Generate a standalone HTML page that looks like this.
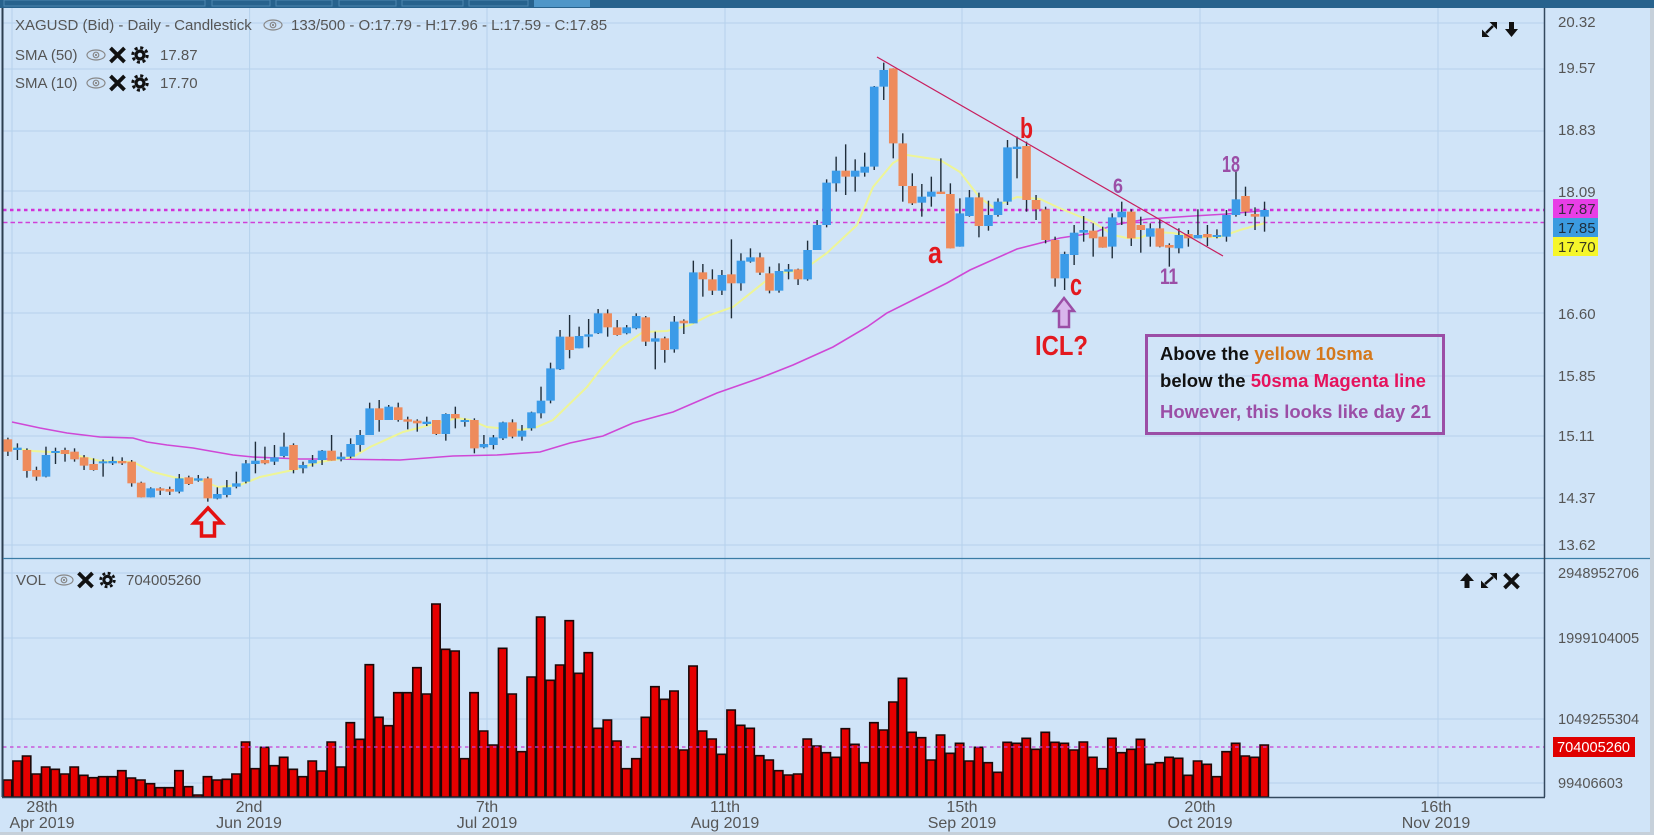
<!DOCTYPE html>
<html><head><meta charset="utf-8">
<style>
html,body{margin:0;padding:0;background:#d0e4f8;width:1654px;height:835px;overflow:hidden;}
svg{display:block;font-family:"Liberation Sans",Arial,sans-serif;}
.g line.w{stroke:#1f2d3a;stroke-width:1.4;vector-effect:non-scaling-stroke;}
.g line.u{stroke:#3b9be8;stroke-width:8.6;vector-effect:non-scaling-stroke;}
.g line.d{stroke:#ee8b5c;stroke-width:8.6;vector-effect:non-scaling-stroke;}
.v rect{fill:#e60000;stroke:#1a0808;stroke-width:1.6;vector-effect:non-scaling-stroke;}
.ax{font-size:15px;fill:#555;}
.vx{font-size:14.6px;fill:#555;}
.dt{font-size:16px;fill:#555;text-anchor:middle;}
.hd{font-size:15px;fill:#555;}
</style></head>
<body>
<svg width="1654" height="835" viewBox="0 0 1654 835" xmlns="http://www.w3.org/2000/svg">
<rect x="0" y="0" width="1654" height="835" fill="#d0e4f8"/>
<rect x="1650" y="0" width="4" height="835" fill="#c6d0da"/>
<rect x="0" y="832" width="1654" height="3" fill="#c6d0da"/>
<!-- top bar -->
<rect x="0" y="0" width="1654" height="8" fill="#27628d"/>
<g fill="none" stroke="#4d86b0" stroke-width="1">
<rect x="4" y="0" width="201" height="6"/><rect x="212" y="0" width="58" height="6"/><rect x="276" y="0" width="56" height="6"/>
<rect x="339" y="0" width="57" height="6"/><rect x="402" y="0" width="61" height="6"/><rect x="469" y="0" width="59" height="6"/>
</g>
<rect x="534" y="0" width="56" height="7" fill="#4f96c8"/>

<!-- grid -->
<g stroke="#b6d1ec" stroke-width="1">
<line x1="3" y1="23" x2="1544" y2="23"/><line x1="3" y1="69" x2="1544" y2="69"/><line x1="3" y1="131" x2="1544" y2="131"/>
<line x1="3" y1="191" x2="1544" y2="191"/><line x1="3" y1="253" x2="1544" y2="253"/><line x1="3" y1="313" x2="1544" y2="313"/>
<line x1="3" y1="376" x2="1544" y2="376"/><line x1="3" y1="436" x2="1544" y2="436"/><line x1="3" y1="498" x2="1544" y2="498"/>
<line x1="3" y1="545" x2="1544" y2="545"/>
<line x1="3" y1="573" x2="1544" y2="573"/><line x1="3" y1="638" x2="1544" y2="638"/><line x1="3" y1="719" x2="1544" y2="719"/><line x1="3" y1="783" x2="1544" y2="783"/>
<line x1="12" y1="8" x2="12" y2="797"/><line x1="249.6" y1="8" x2="249.6" y2="797"/><line x1="487" y1="8" x2="487" y2="797"/>
<line x1="725" y1="8" x2="725" y2="797"/><line x1="962" y1="8" x2="962" y2="797"/><line x1="1200" y1="8" x2="1200" y2="797"/><line x1="1438" y1="8" x2="1438" y2="797"/>
</g>

<!-- header text -->
<text class="hd" x="15" y="30">XAGUSD (Bid) - Daily - Candlestick</text>
<g fill="none" stroke="#888" stroke-width="1.2"><ellipse cx="273" cy="25" rx="9" ry="5"/><circle cx="273" cy="25" r="2.8"/></g><circle cx="273" cy="25" r="1.1" fill="#888"/>
<text class="hd" x="291" y="30">133/500 - O:17.79 - H:17.96 - L:17.59 - C:17.85</text>

<text class="hd" x="15" y="60">SMA (50)</text>
<g fill="none" stroke="#888" stroke-width="1.2"><ellipse cx="96" cy="55" rx="9" ry="5"/><circle cx="96" cy="55" r="2.8"/></g><circle cx="96" cy="55" r="1.1" fill="#888"/>
<path d="M110.5,48 L124.5,62 M124.5,48 L110.5,62" stroke="#111" stroke-width="3.8"/>
<circle cx="140" cy="55" r="5.5" fill="#111"/><circle cx="140" cy="55" r="7.2" fill="none" stroke="#111" stroke-width="3" stroke-dasharray="3 2.65"/><circle cx="140" cy="55" r="2.3" fill="#d0e4f8"/>
<text class="hd" x="160" y="60">17.87</text>

<text class="hd" x="15" y="88">SMA (10)</text>
<g fill="none" stroke="#888" stroke-width="1.2"><ellipse cx="96" cy="83" rx="9" ry="5"/><circle cx="96" cy="83" r="2.8"/></g><circle cx="96" cy="83" r="1.1" fill="#888"/>
<path d="M110.5,76 L124.5,90 M124.5,76 L110.5,90" stroke="#111" stroke-width="3.8"/>
<circle cx="140" cy="83" r="5.5" fill="#111"/><circle cx="140" cy="83" r="7.2" fill="none" stroke="#111" stroke-width="3" stroke-dasharray="3 2.65"/><circle cx="140" cy="83" r="2.3" fill="#d0e4f8"/>
<text class="hd" x="160" y="88">17.70</text>

<!-- top right main icons -->
<polygon points="1497,22 1497,29.5 1489.5,22" fill="#111"/><polygon points="1482,37 1482,29.5 1489.5,37" fill="#111"/>
<line x1="1486" y1="33" x2="1493" y2="26" stroke="#111" stroke-width="2.5"/>
<polygon points="1509,22 1514,22 1514,29 1518,29 1511.5,37 1505,29 1509,29" fill="#111"/>

<!-- dotted level lines -->
<line x1="3" y1="210" x2="1544" y2="210" stroke="#d232d8" stroke-width="2.6" stroke-dasharray="3.5 3.5"/>
<line x1="3" y1="222.5" x2="1544" y2="222.5" stroke="#d040d8" stroke-width="1.6" stroke-dasharray="4.5 3"/>

<!-- SMA50 -->
<polyline fill="none" stroke="#cf48d6" stroke-width="1.6" points="12,422 40,428 67,433 100,437 133,438 147,442 167,445 193,448 210,451 233,455 253,457 277,458 300,459 330,459 400,460 453,456 497,455 540,452 570,443 603,436 633,423 673,412 717,393 760,378 793,365 833,347 867,327 887,313 913,300 947,283 970,270 1017,249 1060,238 1093,233 1113,225 1147,219 1193,216 1227,214 1265,210.5"/>
<!-- SMA10 -->
<polyline fill="none" stroke="#eef596" stroke-width="2" points="12,448 33,451 67,453 100,461 133,462 153,472 177,478 200,480 218,487 240,485 260,477 293,470 320,462 353,457 370,447 403,432 430,425 457,418 470,420 487,427 520,430 537,427 553,420 587,387 600,370 620,348 643,332 667,331 690,325 710,315 733,307 767,280 780,273 803,270 827,253 857,225 873,187 893,163 907,155 940,160 960,172 980,198 993,207 1017,197 1040,199 1057,207 1093,222 1113,235 1127,238 1140,238 1153,232 1173,233 1193,237 1220,237 1240,230 1265,223"/>

<!-- candles group A -->
<g class="g" transform="translate(-1.62,400) scale(9.52,0.333333)">
<line class="w" x1="1" y1="113" x2="1" y2="168"/><line class="d" x1="1" y1="118" x2="1" y2="155"/>
<line class="w" x1="2" y1="130" x2="2" y2="180"/><line class="u" x1="2" y1="143" x2="2" y2="150"/>
<line class="w" x1="3" y1="145" x2="3" y2="233"/><line class="d" x1="3" y1="150" x2="3" y2="213"/>
<line class="w" x1="4" y1="200" x2="4" y2="242"/><line class="d" x1="4" y1="210" x2="4" y2="230"/>
<line class="w" x1="5" y1="140" x2="5" y2="232"/><line class="u" x1="5" y1="165" x2="5" y2="230"/>
<line class="w" x1="6" y1="143" x2="6" y2="192"/><line class="u" x1="6" y1="153" x2="6" y2="159"/>
<line class="w" x1="7" y1="143" x2="7" y2="185"/><line class="d" x1="7" y1="150" x2="7" y2="162"/>
<line class="w" x1="8" y1="145" x2="8" y2="185"/><line class="d" x1="8" y1="155" x2="8" y2="178"/>
<line class="w" x1="9" y1="165" x2="9" y2="210"/><line class="d" x1="9" y1="172" x2="9" y2="197"/>
<line class="w" x1="10" y1="175" x2="10" y2="212"/><line class="d" x1="10" y1="192" x2="10" y2="210"/>
<line class="w" x1="11" y1="178" x2="11" y2="230"/><line class="u" x1="11" y1="184" x2="11" y2="190"/>
<line class="w" x1="12" y1="170" x2="12" y2="195"/><line class="u" x1="12" y1="183" x2="12" y2="190"/>
<line class="w" x1="13" y1="172" x2="13" y2="195"/><line class="d" x1="13" y1="183" x2="13" y2="190"/>
<line class="w" x1="14" y1="180" x2="14" y2="260"/><line class="d" x1="14" y1="185" x2="14" y2="250"/>
<line class="w" x1="15" y1="245" x2="15" y2="292"/><line class="d" x1="15" y1="248" x2="15" y2="292"/>
<line class="w" x1="16" y1="262" x2="16" y2="292"/><line class="u" x1="16" y1="265" x2="16" y2="292"/>
<line class="w" x1="17" y1="262" x2="17" y2="285"/><line class="d" x1="17" y1="265" x2="17" y2="272"/>
<line class="w" x1="18" y1="260" x2="18" y2="285"/><line class="d" x1="18" y1="267" x2="18" y2="275"/>
<line class="w" x1="19" y1="222" x2="19" y2="280"/><line class="u" x1="19" y1="235" x2="19" y2="275"/>
<line class="w" x1="20" y1="227" x2="20" y2="255"/><line class="d" x1="20" y1="232" x2="20" y2="252"/>
<line class="w" x1="21" y1="225" x2="21" y2="245"/><line class="u" x1="21" y1="235" x2="21" y2="242"/>
<line class="w" x1="22" y1="230" x2="22" y2="305"/><line class="d" x1="22" y1="235" x2="22" y2="295"/>
<line class="w" x1="23" y1="262" x2="23" y2="298"/><line class="u" x1="23" y1="282" x2="23" y2="296"/>
<line class="w" x1="24" y1="240" x2="24" y2="292"/><line class="u" x1="24" y1="262" x2="24" y2="285"/>
<line class="w" x1="25" y1="215" x2="25" y2="265"/><line class="u" x1="25" y1="250" x2="25" y2="260"/>
<line class="w" x1="26" y1="180" x2="26" y2="250"/><line class="u" x1="26" y1="190" x2="26" y2="245"/>
<line class="w" x1="27" y1="125" x2="27" y2="220"/><line class="u" x1="27" y1="182" x2="27" y2="192"/>
<line class="w" x1="28" y1="140" x2="28" y2="193"/><line class="d" x1="28" y1="180" x2="28" y2="190"/>
<line class="w" x1="29" y1="135" x2="29" y2="195"/><line class="u" x1="29" y1="172" x2="29" y2="185"/>
<line class="w" x1="30" y1="98" x2="30" y2="172"/><line class="u" x1="30" y1="140" x2="30" y2="168"/>
<line class="w" x1="31" y1="130" x2="31" y2="220"/><line class="d" x1="31" y1="135" x2="31" y2="210"/>
<line class="w" x1="32" y1="185" x2="32" y2="220"/><line class="u" x1="32" y1="195" x2="32" y2="205"/>
<line class="w" x1="33" y1="165" x2="33" y2="200"/><line class="u" x1="33" y1="180" x2="33" y2="190"/>
<line class="w" x1="34" y1="150" x2="34" y2="195"/><line class="u" x1="34" y1="152" x2="34" y2="180"/>
</g>
<!-- candles group B -->
<g class="g" transform="translate(-1.62,240) scale(9.52,0.333333)">
<line class="w" x1="35" y1="585" x2="35" y2="662"/><line class="d" x1="35" y1="632" x2="35" y2="662"/>
<line class="w" x1="36" y1="637" x2="36" y2="664"/><line class="u" x1="36" y1="650" x2="36" y2="658"/>
<line class="w" x1="37" y1="595" x2="37" y2="655"/><line class="u" x1="37" y1="612" x2="37" y2="650"/>
<line class="w" x1="38" y1="570" x2="38" y2="635"/><line class="u" x1="38" y1="585" x2="38" y2="615"/>
<line class="w" x1="39" y1="488" x2="39" y2="585"/><line class="u" x1="39" y1="505" x2="39" y2="585"/>
<line class="w" x1="40" y1="480" x2="40" y2="575"/><line class="d" x1="40" y1="505" x2="40" y2="540"/>
<line class="w" x1="41" y1="495" x2="41" y2="540"/><line class="u" x1="41" y1="500" x2="41" y2="540"/>
<line class="w" x1="42" y1="488" x2="42" y2="545"/><line class="d" x1="42" y1="502" x2="42" y2="540"/>
<line class="w" x1="43" y1="530" x2="43" y2="568"/><line class="d" x1="43" y1="538" x2="43" y2="545"/>
<line class="w" x1="44" y1="538" x2="44" y2="575"/><line class="d" x1="44" y1="542" x2="44" y2="550"/>
<line class="w" x1="45" y1="530" x2="45" y2="558"/><line class="u" x1="45" y1="545" x2="45" y2="552"/>
<line class="w" x1="46" y1="540" x2="46" y2="585"/><line class="d" x1="46" y1="540" x2="46" y2="582"/>
<line class="w" x1="47" y1="520" x2="47" y2="602"/><line class="u" x1="47" y1="522" x2="47" y2="582"/>
<line class="w" x1="48" y1="500" x2="48" y2="565"/><line class="d" x1="48" y1="522" x2="48" y2="535"/>
<line class="w" x1="49" y1="535" x2="49" y2="560"/><line class="u" x1="49" y1="540" x2="49" y2="546"/>
<line class="w" x1="50" y1="535" x2="50" y2="640"/><line class="d" x1="50" y1="540" x2="50" y2="625"/>
<line class="w" x1="51" y1="585" x2="51" y2="625"/><line class="u" x1="51" y1="612" x2="51" y2="622"/>
<line class="w" x1="52" y1="585" x2="52" y2="628"/><line class="u" x1="52" y1="592" x2="52" y2="615"/>
<line class="w" x1="53" y1="545" x2="53" y2="600"/><line class="u" x1="53" y1="547" x2="53" y2="595"/>
<line class="w" x1="54" y1="538" x2="54" y2="595"/><line class="d" x1="54" y1="547" x2="54" y2="590"/>
<line class="w" x1="55" y1="555" x2="55" y2="602"/><line class="u" x1="55" y1="572" x2="55" y2="590"/>
<line class="w" x1="56" y1="515" x2="56" y2="572"/><line class="u" x1="56" y1="517" x2="56" y2="565"/>
<line class="w" x1="57" y1="440" x2="57" y2="535"/><line class="u" x1="57" y1="482" x2="57" y2="520"/>
<line class="w" x1="58" y1="368" x2="58" y2="490"/><line class="u" x1="58" y1="385" x2="58" y2="482"/>
<line class="w" x1="59" y1="270" x2="59" y2="390"/><line class="u" x1="59" y1="290" x2="59" y2="388"/>
<line class="w" x1="60" y1="225" x2="60" y2="355"/><line class="d" x1="60" y1="290" x2="60" y2="330"/>
<line class="w" x1="61" y1="260" x2="61" y2="325"/><line class="u" x1="61" y1="288" x2="61" y2="325"/>
<line class="w" x1="62" y1="237" x2="62" y2="322"/><line class="u" x1="62" y1="283" x2="62" y2="290"/>
<line class="w" x1="63" y1="207" x2="63" y2="282"/><line class="u" x1="63" y1="220" x2="63" y2="280"/>
<line class="w" x1="64" y1="208" x2="64" y2="290"/><line class="d" x1="64" y1="220" x2="64" y2="262"/>
<line class="w" x1="65" y1="240" x2="65" y2="287"/><line class="d" x1="65" y1="262" x2="65" y2="285"/>
<line class="w" x1="66" y1="255" x2="66" y2="283"/><line class="u" x1="66" y1="262" x2="66" y2="280"/>
<line class="w" x1="67" y1="220" x2="67" y2="268"/><line class="u" x1="67" y1="228" x2="67" y2="265"/>
<line class="w" x1="68" y1="228" x2="68" y2="318"/><line class="d" x1="68" y1="232" x2="68" y2="305"/>
</g>
<!-- candles group C -->
<g class="g" transform="translate(-1.62,280) scale(9.52,0.333333)">
<line class="w" x1="69" y1="155" x2="69" y2="268"/><line class="u" x1="69" y1="175" x2="69" y2="185"/>
<line class="w" x1="70" y1="170" x2="70" y2="248"/><line class="d" x1="70" y1="175" x2="70" y2="210"/>
<line class="w" x1="71" y1="108" x2="71" y2="218"/><line class="u" x1="71" y1="125" x2="71" y2="208"/>
<line class="w" x1="72" y1="118" x2="72" y2="162"/><line class="d" x1="72" y1="122" x2="72" y2="130"/>
</g>
<!-- candles group D -->
<g class="g" transform="translate(-1.62,40) scale(9.52,0.333333)">
<line class="w" x1="73" y1="662" x2="73" y2="850"/><line class="u" x1="73" y1="697" x2="73" y2="850"/>
<line class="w" x1="74" y1="672" x2="74" y2="770"/><line class="d" x1="74" y1="697" x2="74" y2="718"/>
<line class="w" x1="75" y1="688" x2="75" y2="765"/><line class="d" x1="75" y1="718" x2="75" y2="752"/>
<line class="w" x1="76" y1="690" x2="76" y2="765"/><line class="u" x1="76" y1="705" x2="76" y2="752"/>
<line class="w" x1="77" y1="598" x2="77" y2="835"/><line class="d" x1="77" y1="703" x2="77" y2="730"/>
<line class="w" x1="78" y1="640" x2="78" y2="752"/><line class="u" x1="78" y1="662" x2="78" y2="730"/>
<line class="w" x1="79" y1="625" x2="79" y2="668"/><line class="u" x1="79" y1="652" x2="79" y2="665"/>
<line class="w" x1="80" y1="638" x2="80" y2="705"/><line class="d" x1="80" y1="652" x2="80" y2="698"/>
<line class="w" x1="81" y1="680" x2="81" y2="760"/><line class="d" x1="81" y1="700" x2="81" y2="752"/>
<line class="w" x1="82" y1="670" x2="82" y2="758"/><line class="u" x1="82" y1="693" x2="82" y2="752"/>
<line class="w" x1="83" y1="672" x2="83" y2="718"/><line class="u" x1="83" y1="688" x2="83" y2="695"/>
<line class="w" x1="84" y1="686" x2="84" y2="735"/><line class="d" x1="84" y1="688" x2="84" y2="718"/>
<line class="w" x1="85" y1="602" x2="85" y2="722"/><line class="u" x1="85" y1="630" x2="85" y2="718"/>
<line class="w" x1="86" y1="540" x2="86" y2="630"/><line class="u" x1="86" y1="555" x2="86" y2="630"/>
<line class="w" x1="87" y1="418" x2="87" y2="562"/><line class="u" x1="87" y1="428" x2="87" y2="555"/>
<line class="w" x1="88" y1="350" x2="88" y2="455"/><line class="u" x1="88" y1="392" x2="88" y2="430"/>
<line class="w" x1="89" y1="313" x2="89" y2="465"/><line class="d" x1="89" y1="392" x2="89" y2="410"/>
<line class="w" x1="90" y1="358" x2="90" y2="455"/><line class="u" x1="90" y1="392" x2="90" y2="410"/>
<line class="w" x1="91" y1="338" x2="91" y2="410"/><line class="u" x1="91" y1="380" x2="91" y2="398"/>
<line class="w" x1="92" y1="138" x2="92" y2="390"/><line class="u" x1="92" y1="140" x2="92" y2="380"/>
<line class="w" x1="93" y1="68" x2="93" y2="180"/><line class="u" x1="93" y1="90" x2="93" y2="140"/>
<line class="w" x1="94" y1="85" x2="94" y2="355"/><line class="d" x1="94" y1="85" x2="94" y2="310"/>
<line class="w" x1="95" y1="280" x2="95" y2="485"/><line class="d" x1="95" y1="310" x2="95" y2="438"/>
<line class="w" x1="96" y1="400" x2="96" y2="495"/><line class="d" x1="96" y1="438" x2="96" y2="490"/>
<line class="w" x1="97" y1="432" x2="97" y2="530"/><line class="u" x1="97" y1="470" x2="97" y2="488"/>
<line class="w" x1="98" y1="410" x2="98" y2="500"/><line class="u" x1="98" y1="455" x2="98" y2="470"/>
<line class="w" x1="99" y1="355" x2="99" y2="462"/><line class="d" x1="99" y1="455" x2="99" y2="462"/>
<line class="w" x1="100" y1="430" x2="100" y2="625"/><line class="d" x1="100" y1="462" x2="100" y2="625"/>
<line class="w" x1="101" y1="475" x2="101" y2="620"/><line class="u" x1="101" y1="520" x2="101" y2="620"/>
</g>
<!-- candles group E -->
<g class="g" transform="translate(-1.62,110) scale(9.52,0.333333)">
<line class="w" x1="102" y1="240" x2="102" y2="320"/><line class="u" x1="102" y1="262" x2="102" y2="318"/>
<line class="w" x1="103" y1="248" x2="103" y2="382"/><line class="d" x1="103" y1="262" x2="103" y2="348"/>
<line class="w" x1="104" y1="272" x2="104" y2="362"/><line class="u" x1="104" y1="315" x2="104" y2="348"/>
<line class="w" x1="105" y1="265" x2="105" y2="320"/><line class="u" x1="105" y1="275" x2="105" y2="315"/>
<line class="w" x1="106" y1="90" x2="106" y2="285"/><line class="u" x1="106" y1="112" x2="106" y2="275"/>
<line class="w" x1="107" y1="80" x2="107" y2="205"/><line class="u" x1="107" y1="110" x2="107" y2="117"/>
<line class="w" x1="108" y1="95" x2="108" y2="305"/><line class="d" x1="108" y1="108" x2="108" y2="270"/>
<line class="w" x1="109" y1="255" x2="109" y2="330"/><line class="d" x1="109" y1="270" x2="109" y2="298"/>
<line class="w" x1="110" y1="290" x2="110" y2="400"/><line class="d" x1="110" y1="298" x2="110" y2="390"/>
<line class="w" x1="111" y1="380" x2="111" y2="530"/><line class="d" x1="111" y1="390" x2="111" y2="505"/>
<line class="w" x1="112" y1="425" x2="112" y2="540"/><line class="u" x1="112" y1="432" x2="112" y2="505"/>
<line class="w" x1="113" y1="345" x2="113" y2="465"/><line class="u" x1="113" y1="368" x2="113" y2="435"/>
<line class="w" x1="114" y1="318" x2="114" y2="395"/><line class="u" x1="114" y1="360" x2="114" y2="368"/>
<line class="w" x1="115" y1="340" x2="115" y2="440"/><line class="d" x1="115" y1="362" x2="115" y2="385"/>
<line class="w" x1="116" y1="350" x2="116" y2="413"/><line class="d" x1="116" y1="380" x2="116" y2="413"/>
<line class="w" x1="117" y1="310" x2="117" y2="445"/><line class="u" x1="117" y1="322" x2="117" y2="410"/>
<line class="w" x1="118" y1="275" x2="118" y2="345"/><line class="u" x1="118" y1="305" x2="118" y2="322"/>
<line class="w" x1="119" y1="298" x2="119" y2="408"/><line class="d" x1="119" y1="305" x2="119" y2="385"/>
<line class="w" x1="120" y1="320" x2="120" y2="428"/><line class="d" x1="120" y1="345" x2="120" y2="360"/>
<line class="w" x1="121" y1="340" x2="121" y2="410"/><line class="u" x1="121" y1="355" x2="121" y2="380"/>
<line class="w" x1="122" y1="328" x2="122" y2="412"/><line class="d" x1="122" y1="355" x2="122" y2="410"/>
<line class="w" x1="123" y1="400" x2="123" y2="470"/><line class="d" x1="123" y1="405" x2="123" y2="413"/>
<line class="w" x1="124" y1="355" x2="124" y2="430"/><line class="u" x1="124" y1="375" x2="124" y2="415"/>
<line class="w" x1="125" y1="360" x2="125" y2="410"/><line class="d" x1="125" y1="372" x2="125" y2="385"/>
<line class="w" x1="126" y1="298" x2="126" y2="385"/><line class="u" x1="126" y1="375" x2="126" y2="385"/>
<line class="w" x1="127" y1="345" x2="127" y2="408"/><line class="d" x1="127" y1="372" x2="127" y2="382"/>
<line class="w" x1="128" y1="358" x2="128" y2="385"/><line class="u" x1="128" y1="375" x2="128" y2="381"/>
<line class="w" x1="129" y1="300" x2="129" y2="395"/><line class="u" x1="129" y1="315" x2="129" y2="380"/>
<line class="w" x1="130" y1="185" x2="130" y2="320"/><line class="u" x1="130" y1="268" x2="130" y2="315"/>
<line class="w" x1="131" y1="230" x2="131" y2="318"/><line class="d" x1="131" y1="258" x2="131" y2="305"/>
<line class="w" x1="132" y1="292" x2="132" y2="360"/><line class="d" x1="132" y1="312" x2="132" y2="320"/>
<line class="w" x1="133" y1="275" x2="133" y2="365"/><line class="u" x1="133" y1="300" x2="133" y2="320"/>
</g>

<!-- trendline -->
<line x1="877" y1="57" x2="1223" y2="256" stroke="#c81e5e" stroke-width="1.2"/>

<!-- annotations -->
<text x="928" y="263" font-size="31" font-weight="bold" fill="#e3191f" textLength="14" lengthAdjust="spacingAndGlyphs">a</text>
<text x="1020" y="138" font-size="29" font-weight="bold" fill="#e3191f" textLength="13" lengthAdjust="spacingAndGlyphs">b</text>
<text x="1070" y="295" font-size="31" font-weight="bold" fill="#e3191f" textLength="12" lengthAdjust="spacingAndGlyphs">c</text>
<text x="1113" y="193" font-size="21" font-weight="bold" fill="#9b4ea6" textLength="10" lengthAdjust="spacingAndGlyphs">6</text>
<text x="1160" y="284" font-size="22" font-weight="bold" fill="#9b4ea6" textLength="18" lengthAdjust="spacingAndGlyphs">11</text>
<text x="1222" y="172" font-size="23" font-weight="bold" fill="#9b4ea6" textLength="18" lengthAdjust="spacingAndGlyphs">18</text>
<polygon points="1064,298 1074,311 1069,311 1069,327 1059,327 1059,311 1054,311" fill="#d9b6ec" stroke="#9b4ea6" stroke-width="2.5" stroke-linejoin="miter"/>
<text x="1035" y="355" font-size="28" font-weight="bold" fill="#e3191f" textLength="53" lengthAdjust="spacingAndGlyphs">ICL?</text>
<polygon points="208,508 222,523 214.5,523 214.5,536 201.5,536 201.5,523 194,523" fill="none" stroke="#e41010" stroke-width="3.5" stroke-linejoin="miter"/>

<!-- text box -->
<rect x="1146.5" y="335.5" width="297" height="98" fill="none" stroke="#9b4ea6" stroke-width="3"/>
<text x="1160" y="360" font-size="18.5" font-weight="bold" textLength="213" lengthAdjust="spacingAndGlyphs"><tspan fill="#111">Above the </tspan><tspan fill="#d4781c">yellow 10sma</tspan></text>
<text x="1160" y="387" font-size="18.5" font-weight="bold" textLength="266" lengthAdjust="spacingAndGlyphs"><tspan fill="#111">below the </tspan><tspan fill="#e5135c">50sma Magenta line</tspan></text>
<text x="1160" y="418" font-size="18.5" font-weight="bold" fill="#9b4ea6" textLength="271" lengthAdjust="spacingAndGlyphs">However, this looks like day 21</text>

<!-- volume panel -->
<g class="v" transform="translate(-6.12,540) scale(9.52,0.333333)">
<rect x="1" y="720" width="0.88" height="51"/><rect x="2" y="663" width="0.88" height="108"/><rect x="3" y="648" width="0.88" height="123"/><rect x="4" y="702" width="0.88" height="69"/><rect x="5" y="681" width="0.88" height="90"/>
<rect x="6" y="688" width="0.88" height="83"/><rect x="7" y="702" width="0.88" height="69"/><rect x="8" y="681" width="0.88" height="90"/><rect x="9" y="706" width="0.88" height="65"/><rect x="10" y="713" width="0.88" height="58"/>
<rect x="11" y="710" width="0.88" height="61"/><rect x="12" y="710" width="0.88" height="61"/><rect x="13" y="692" width="0.88" height="79"/><rect x="14" y="714" width="0.88" height="57"/><rect x="15" y="720" width="0.88" height="51"/>
<rect x="16" y="731" width="0.88" height="40"/><rect x="17" y="743" width="0.88" height="28"/><rect x="18" y="743" width="0.88" height="28"/><rect x="19" y="692" width="0.88" height="79"/><rect x="20" y="740" width="0.88" height="31"/>
<rect x="21" y="765" width="0.88" height="6"/><rect x="22" y="710" width="0.88" height="61"/><rect x="23" y="720" width="0.88" height="51"/><rect x="24" y="718" width="0.88" height="53"/><rect x="25" y="702" width="0.88" height="69"/>
<rect x="26" y="606" width="0.88" height="165"/><rect x="27" y="686" width="0.88" height="85"/><rect x="28" y="622" width="0.88" height="149"/><rect x="29" y="677" width="0.88" height="94"/><rect x="30" y="652" width="0.88" height="119"/>
<rect x="31" y="688" width="0.88" height="83"/><rect x="32" y="710" width="0.88" height="61"/><rect x="33" y="663" width="0.88" height="108"/><rect x="34" y="693" width="0.88" height="78"/><rect x="35" y="606" width="0.88" height="165"/>
<rect x="36" y="681" width="0.88" height="90"/><rect x="37" y="548" width="0.88" height="223"/><rect x="38" y="598" width="0.88" height="173"/><rect x="39" y="374" width="0.88" height="397"/><rect x="40" y="532" width="0.88" height="239"/>
<rect x="41" y="557" width="0.88" height="214"/><rect x="42" y="458" width="0.88" height="313"/><rect x="43" y="458" width="0.88" height="313"/><rect x="44" y="383" width="0.88" height="388"/><rect x="45" y="462" width="0.88" height="309"/>
<rect x="46" y="192" width="0.88" height="579"/><rect x="47" y="328" width="0.88" height="443"/><rect x="48" y="333" width="0.88" height="438"/><rect x="49" y="656" width="0.88" height="115"/><rect x="50" y="458" width="0.88" height="313"/>
<rect x="51" y="573" width="0.88" height="198"/><rect x="52" y="615" width="0.88" height="156"/><rect x="53" y="325" width="0.88" height="446"/><rect x="54" y="462" width="0.88" height="309"/><rect x="55" y="635" width="0.88" height="136"/>
<rect x="56" y="411" width="0.88" height="360"/><rect x="57" y="231" width="0.88" height="540"/><rect x="58" y="421" width="0.88" height="350"/><rect x="59" y="375" width="0.88" height="396"/><rect x="60" y="242" width="0.88" height="529"/>
<rect x="61" y="400" width="0.88" height="371"/><rect x="62" y="338" width="0.88" height="433"/><rect x="63" y="565" width="0.88" height="206"/><rect x="64" y="540" width="0.88" height="231"/><rect x="65" y="603" width="0.88" height="168"/>
<rect x="66" y="686" width="0.88" height="85"/><rect x="67" y="656" width="0.88" height="115"/><rect x="68" y="532" width="0.88" height="239"/><rect x="69" y="440" width="0.88" height="331"/><rect x="70" y="478" width="0.88" height="293"/>
<rect x="71" y="453" width="0.88" height="318"/><rect x="72" y="630" width="0.88" height="141"/><rect x="73" y="378" width="0.88" height="393"/><rect x="74" y="573" width="0.88" height="198"/><rect x="75" y="597" width="0.88" height="174"/>
<rect x="76" y="643" width="0.88" height="128"/><rect x="77" y="510" width="0.88" height="261"/><rect x="78" y="556" width="0.88" height="215"/><rect x="79" y="565" width="0.88" height="206"/><rect x="80" y="647" width="0.88" height="124"/>
<rect x="81" y="660" width="0.88" height="111"/><rect x="82" y="692" width="0.88" height="79"/><rect x="83" y="705" width="0.88" height="66"/><rect x="84" y="702" width="0.88" height="69"/><rect x="85" y="597" width="0.88" height="174"/>
<rect x="86" y="618" width="0.88" height="153"/><rect x="87" y="638" width="0.88" height="133"/><rect x="88" y="652" width="0.88" height="119"/><rect x="89" y="566" width="0.88" height="205"/><rect x="90" y="613" width="0.88" height="158"/>
<rect x="91" y="668" width="0.88" height="103"/><rect x="92" y="548" width="0.88" height="223"/><rect x="93" y="570" width="0.88" height="201"/><rect x="94" y="486" width="0.88" height="285"/><rect x="95" y="415" width="0.88" height="356"/>
<rect x="96" y="577" width="0.88" height="194"/><rect x="97" y="593" width="0.88" height="178"/><rect x="98" y="660" width="0.88" height="111"/><rect x="99" y="585" width="0.88" height="186"/><rect x="100" y="640" width="0.88" height="131"/>
<rect x="101" y="610" width="0.88" height="161"/><rect x="102" y="663" width="0.88" height="108"/><rect x="103" y="622" width="0.88" height="149"/><rect x="104" y="668" width="0.88" height="103"/><rect x="105" y="697" width="0.88" height="74"/>
<rect x="106" y="607" width="0.88" height="164"/><rect x="107" y="610" width="0.88" height="161"/><rect x="108" y="595" width="0.88" height="176"/><rect x="109" y="628" width="0.88" height="143"/><rect x="110" y="577" width="0.88" height="194"/>
<rect x="111" y="607" width="0.88" height="164"/><rect x="112" y="610" width="0.88" height="161"/><rect x="113" y="630" width="0.88" height="141"/><rect x="114" y="606" width="0.88" height="165"/><rect x="115" y="652" width="0.88" height="119"/>
<rect x="116" y="686" width="0.88" height="85"/><rect x="117" y="595" width="0.88" height="176"/><rect x="118" y="638" width="0.88" height="133"/><rect x="119" y="628" width="0.88" height="143"/><rect x="120" y="598" width="0.88" height="173"/>
<rect x="121" y="673" width="0.88" height="98"/><rect x="122" y="668" width="0.88" height="103"/><rect x="123" y="652" width="0.88" height="119"/><rect x="124" y="655" width="0.88" height="116"/><rect x="125" y="706" width="0.88" height="65"/>
<rect x="126" y="663" width="0.88" height="108"/><rect x="127" y="673" width="0.88" height="98"/><rect x="128" y="710" width="0.88" height="61"/><rect x="129" y="635" width="0.88" height="136"/><rect x="130" y="610" width="0.88" height="161"/>
<rect x="131" y="648" width="0.88" height="123"/><rect x="132" y="652" width="0.88" height="119"/><rect x="133" y="615" width="0.88" height="156"/>
</g>
<line x1="3" y1="747" x2="1544" y2="747" stroke="#c83cd4" stroke-width="1.3" stroke-dasharray="3.5 3.5"/>

<!-- VOL header -->
<text class="hd" x="16" y="585">VOL</text>
<g fill="none" stroke="#888" stroke-width="1.2"><ellipse cx="64" cy="580" rx="9" ry="5"/><circle cx="64" cy="580" r="2.8"/></g><circle cx="64" cy="580" r="1.1" fill="#888"/>
<path d="M78.5,573 L92.5,587 M92.5,573 L78.5,587" stroke="#111" stroke-width="3.8"/>
<circle cx="107.5" cy="580" r="5.2" fill="#111"/><circle cx="107.5" cy="580" r="6.8" fill="none" stroke="#111" stroke-width="2.8" stroke-dasharray="2.8 2.54"/><circle cx="107.5" cy="580" r="2.1" fill="#d0e4f8"/>
<text class="hd" x="126" y="585">704005260</text>
<!-- vol icons -->
<polygon points="1467,573 1474,581 1469.5,581 1469.5,588 1464.5,588 1464.5,581 1460,581" fill="#111"/>
<polygon points="1497,573 1497,580.5 1489.5,573" fill="#111"/><polygon points="1481,588 1481,580.5 1488.5,588" fill="#111"/>
<line x1="1485" y1="584" x2="1493" y2="577" stroke="#111" stroke-width="2.5"/>
<path d="M1504.5,574 L1518.5,588 M1518.5,574 L1504.5,588" stroke="#111" stroke-width="3.8"/>

<!-- frame lines -->
<line x1="2.5" y1="8" x2="2.5" y2="797" stroke="#2c3e50" stroke-width="2"/>
<line x1="3" y1="558.5" x2="1650" y2="558.5" stroke="#3a7ca5" stroke-width="1.2"/>
<line x1="1544.5" y1="8" x2="1544.5" y2="797" stroke="#34495e" stroke-width="1.5"/>
<line x1="2" y1="797.5" x2="1545" y2="797.5" stroke="#34495e" stroke-width="1.5"/>

<!-- price axis -->
<text class="ax" x="1558" y="27">20.32</text>
<text class="ax" x="1558" y="73">19.57</text>
<text class="ax" x="1558" y="135">18.83</text>
<text class="ax" x="1558" y="197">18.09</text>
<rect x="1553" y="199" width="45" height="19" fill="#e83ee6"/>
<text class="ax" x="1558" y="214" style="fill:#3a2a40">17.87</text>
<rect x="1553" y="218" width="45" height="19" fill="#3b9be0"/>
<text class="ax" x="1558" y="233" style="fill:#1e2e3e">17.85</text>
<rect x="1553" y="237" width="45" height="19" fill="#f6f62a"/>
<text class="ax" x="1558" y="252" style="fill:#3a3a20">17.70</text>
<text class="ax" x="1558" y="319">16.60</text>
<text class="ax" x="1558" y="381">15.85</text>
<text class="ax" x="1558" y="441">15.11</text>
<text class="ax" x="1558" y="503">14.37</text>
<text class="ax" x="1558" y="550">13.62</text>
<!-- volume axis -->
<text class="vx" x="1558" y="578">2948952706</text>
<text class="vx" x="1558" y="643">1999104005</text>
<text class="vx" x="1558" y="724">1049255304</text>
<rect x="1553" y="737" width="82" height="20" fill="#e00000"/>
<text class="vx" x="1557" y="752" style="fill:#ffffff">704005260</text>
<text class="vx" x="1558" y="788">99406603</text>

<!-- date axis -->
<text class="dt" x="42" y="812">28th</text><text class="dt" x="42" y="828">Apr 2019</text>
<text class="dt" x="249" y="812">2nd</text><text class="dt" x="249" y="828">Jun 2019</text>
<text class="dt" x="487" y="812">7th</text><text class="dt" x="487" y="828">Jul 2019</text>
<text class="dt" x="725" y="812">11th</text><text class="dt" x="725" y="828">Aug 2019</text>
<text class="dt" x="962" y="812">15th</text><text class="dt" x="962" y="828">Sep 2019</text>
<text class="dt" x="1200" y="812">20th</text><text class="dt" x="1200" y="828">Oct 2019</text>
<text class="dt" x="1436" y="812">16th</text><text class="dt" x="1436" y="828">Nov 2019</text>
</svg>
</body></html>
